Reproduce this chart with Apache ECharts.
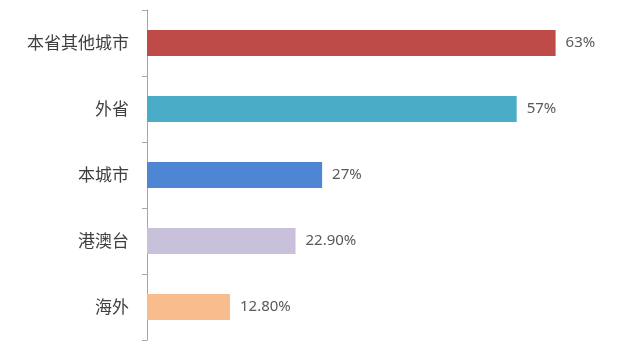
<!DOCTYPE html>
<html>
<head>
<meta charset="utf-8">
<script src="https://cdn.jsdelivr.net/npm/echarts@6/dist/echarts.min.js"></script>
<style>html,body{margin:0;padding:0;background:#fff;}#c{width:631px;height:352px;}</style>
</head>
<body>
<div id="c"></div>
<script>
var categories = ['本省其他城市', '外省', '本城市', '港澳台', '海外'];
var values = [63, 57, 27, 22.9, 12.8];
var valueLabels = ['63%', '57%', '27%', '22.90%', '12.80%'];
var colors = ['#BE4B48', '#4AACC6', '#4F86D3', '#C9C0DC', '#F9BC8C'];

var chart = echarts.init(document.getElementById('c'));
chart.setOption({
  animation: false,
  backgroundColor: '#ffffff',
  grid: { left: 147, right: 30, top: 10, bottom: 12, containLabel: false },
  xAxis: { type: 'value', min: 0, max: 70, show: false },
  yAxis: {
    type: 'category',
    inverse: true,
    data: categories,
    axisLine: { show: true, lineStyle: { color: '#A6A6A6', width: 1 } },
    axisTick: { show: true, length: 5, lineStyle: { color: '#A6A6A6' } },
    axisLabel: { margin: 18, fontSize: 17, color: '#404040', fontFamily: 'Noto Sans CJK SC' },
    splitLine: { show: false }
  },
  series: [{
    type: 'bar',
    barWidth: 26,
    data: values.map(function (v, i) { return { value: v, itemStyle: { color: colors[i] } }; }),
    label: {
      show: true,
      position: 'right',
      distance: 10,
      fontSize: 15,
      color: '#595959',
      fontFamily: 'Noto Sans',
      formatter: function (p) { return valueLabels[p.dataIndex]; }
    }
  }]
});
</script>
</body>
</html>
